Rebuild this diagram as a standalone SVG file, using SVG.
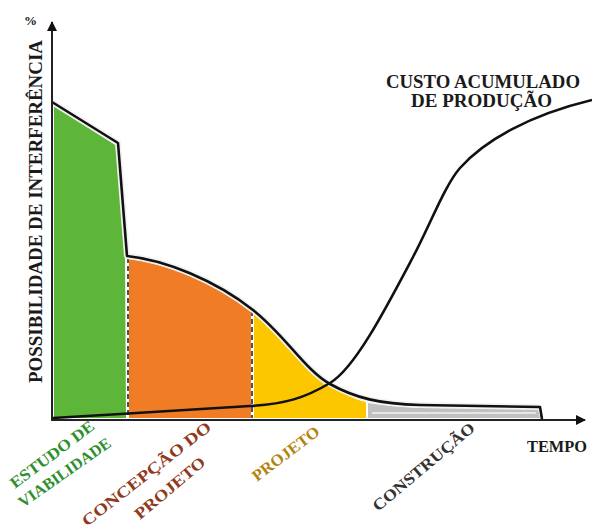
<svg xmlns="http://www.w3.org/2000/svg" width="592" height="531" viewBox="0 0 592 531">
<defs>
<style>
text{font-family:"Liberation Serif","Times New Roman",serif;font-weight:bold}
.dash{stroke:#1a1a1a;stroke-width:1.5;stroke-dasharray:5,3;fill:none}
.curve{fill:none;stroke:#111;stroke-width:2.6;stroke-linejoin:round}
.halo{fill:none;stroke:#f2f2f2;stroke-width:6;stroke-linejoin:round}
.axis{stroke:#222;stroke-width:2;fill:none}
</style>
<marker id="arr" markerWidth="10" markerHeight="10" refX="9" refY="5" orient="auto" markerUnits="userSpaceOnUse" viewBox="0 0 10 10">
<path d="M0,0 L10,5 L0,10 Z" fill="#111"/>
</marker>
</defs>
<rect width="592" height="531" fill="#fff"/>

<g id="phase-estudo">
<path d="M54,106 L117,146 L125,256 L126,418 L54,418 Z" fill="#5db63a"/>
</g>
<g id="phase-concepcao">
<path d="M129,259 C165,263 215,283 251,312 L251,418 L129,418 Z" fill="#f07d26"/>
</g>
<g id="phase-projeto">
<path d="M254,313 C285,338 305,372 330,386 C350,397 360,401 366,402 L366,418 L254,418 Z" fill="#fdc700"/>
</g>
<g id="phase-construcao">
<path d="M368,403 C380,405 400,407 420,408 L538,409 L540,418 L368,418 Z" fill="#c0c0c0"/>
<path d="M372,413 L536,413" stroke="#e6e6e6" stroke-width="2"/>
</g>

<g id="connectors">
<path class="dash" d="M128,258 L128,418"/>
<path class="dash" d="M252,311 L252,418"/>
<path class="halo" d="M52,102 L118,143 L127,256 C165,260 215,280 253,310 C285,335 305,370 330,384 C355,398 380,404 420,405 L540,407"/>
<path id="interference-curve" class="curve" d="M52,102 L118,143 L127,256 C165,260 215,280 253,310 C285,335 305,370 330,384 C355,398 380,404 420,405 L540,407 L542,419"/>
<path id="cost-curve" class="curve" d="M53,418 C120,414 200,409 250,406 C285,404 305,398 330,383 C355,368 385,310 413,257 C430,225 445,185 460,168 C485,140 530,115 592,100"/>
<path class="axis" d="M52,420 L52,22" marker-end="url(#arr)"/>
<path class="axis" d="M51,420 L585,420" marker-end="url(#arr)"/>
</g>

<g id="axis-labels">
<text x="24" y="25" font-size="13" fill="#1a1a1a">%</text>
<text transform="translate(42,383) rotate(-90)" font-size="19" fill="#1a1a1a" textLength="343" lengthAdjust="spacingAndGlyphs">POSSIBILIDADE  DE INTERFERÊNCIA</text>
<text x="527" y="452" font-size="17" fill="#1a1a1a" textLength="60" lengthAdjust="spacingAndGlyphs">TEMPO</text>
</g>

<g id="cost-label">
<text x="386" y="88" font-size="18" fill="#1a1a1a" textLength="194" lengthAdjust="spacingAndGlyphs">CUSTO ACUMULADO</text>
<text x="411" y="107" font-size="18" fill="#1a1a1a" textLength="141" lengthAdjust="spacingAndGlyphs">DE PRODUÇÃO</text>
</g>

<g id="label-estudo" fill="#2f8f2f">
<text transform="translate(15,489) rotate(-37)" font-size="16" textLength="101" lengthAdjust="spacingAndGlyphs">ESTUDO  DE</text>
<text transform="translate(23,508) rotate(-35)" font-size="16" textLength="109" lengthAdjust="spacingAndGlyphs">VIABILIDADE</text>
</g>
<g id="label-concepcao" fill="#8f3a1c">
<text transform="translate(87,527) rotate(-38)" font-size="16" textLength="159" lengthAdjust="spacingAndGlyphs">CONCEPÇÃO DO</text>
<text transform="translate(140,520) rotate(-40)" font-size="16" textLength="87" lengthAdjust="spacingAndGlyphs">PROJETO</text>
</g>
<g id="label-projeto" fill="#b5830f">
<text transform="translate(257,482) rotate(-37)" font-size="16" textLength="80" lengthAdjust="spacingAndGlyphs">PROJETO</text>
</g>
<g id="label-construcao" fill="#333">
<text transform="translate(378,512) rotate(-40)" font-size="16" textLength="128" lengthAdjust="spacingAndGlyphs">CONSTRUÇÃO</text>
</g>
</svg>
